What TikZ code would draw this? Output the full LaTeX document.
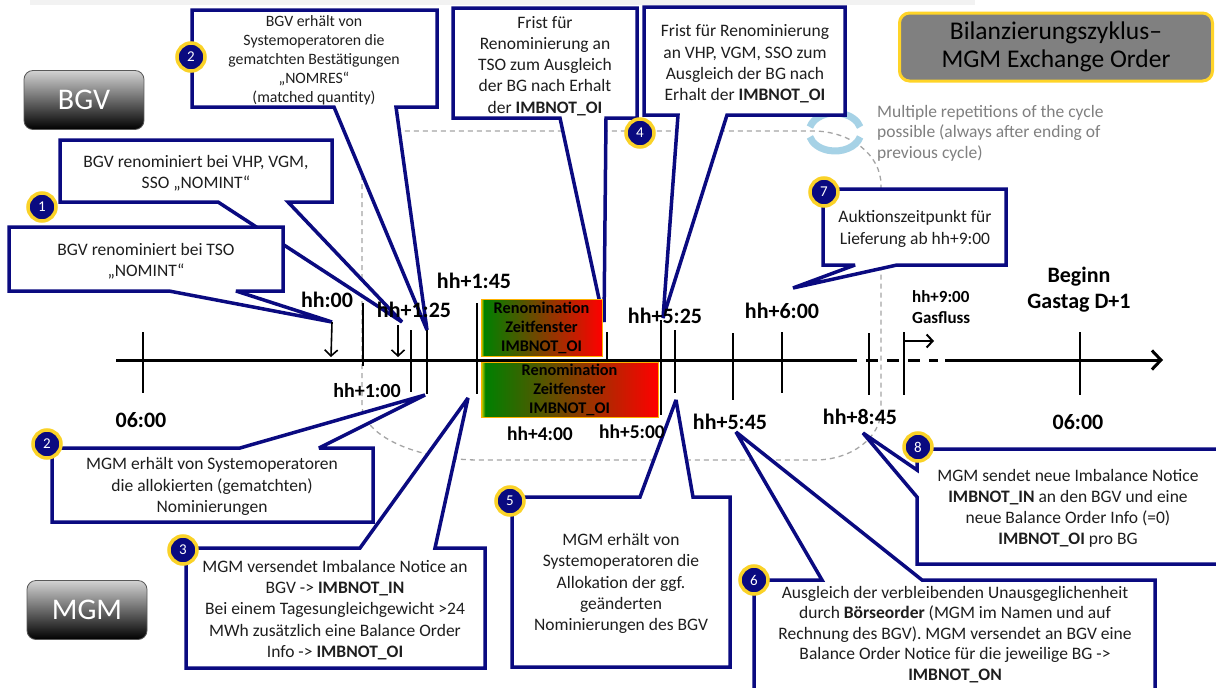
\documentclass[tikz,border=0pt]{standalone}
\usepackage{fontspec}
\setmainfont{Carlito}
\usetikzlibrary{arrows.meta}
\definecolor{navyc}{RGB}{10,10,128}
\definecolor{badgey}{RGB}{250,210,40}
\definecolor{titley}{RGB}{255,212,40}
\definecolor{titleg}{RGB}{128,128,128}
\definecolor{dashg}{RGB}{165,165,165}
\definecolor{cyc}{RGB}{166,210,230}
\definecolor{cyctext}{RGB}{128,128,128}
\definecolor{grn}{RGB}{0,128,0}
\definecolor{yelstrip}{RGB}{230,220,0}
\definecolor{txt}{RGB}{30,30,30}
\pgfdeclarehorizontalshading{renom}{100bp}{color(0bp)=(yelstrip); color(25bp)=(yelstrip); color(26.2bp)=(grn); color(75bp)=(red); color(100bp)=(red)}
\begin{document}
\begin{tikzpicture}[x=1pt,y=-1pt,
  callout/.style={draw=navyc, line width=3.5pt, fill=white, miter limit=3},
  ctext/.style={align=center, text=txt, inner sep=0pt, font=\fontsize{17.5}{21.2}\selectfont},
  badge/.style={circle, fill=navyc, draw=badgey, line width=3.5pt, minimum size=28pt, inner sep=0pt, text=white, font=\fontsize{15}{15}\selectfont},
  tickline/.style={line width=2.8pt},
  tl/.style={font=\bfseries\fontsize{22}{26}\selectfont, inner sep=0pt},
  tls/.style={font=\bfseries\fontsize{19.5}{22}\selectfont, inner sep=0pt},
  renombox/.style={draw=orange!60!yellow, line width=0.8pt, shading=renom, align=center, inner sep=0pt, font=\bfseries\fontsize{16.3}{19}\selectfont},
  button/.style={rounded corners=9pt, top color=gray!35, bottom color=black, draw=gray!70!black, line width=0.8pt, minimum width=120pt, minimum height=59pt, text=white, font=\fontsize{30}{30}\selectfont},
  smallarrow/.style={line width=1.6pt, -{Straight Barb[length=6pt,width=13pt]}},
  cycarc/.style={cyc, line width=7pt}
]
\clip (0,0) rectangle (1216,688);
\fill[white] (0,0) rectangle (1216,688);
\fill[gray!10] (30,0) rectangle (975,5);

% dashed cycle frame
\draw[dashg, line width=1.3pt, dash pattern=on 5pt off 4pt]
  (362,179) .. controls (362,152.5) and (380,131) .. (402,131) -- (813,131)
  .. controls (850.5,131) and (881,155) .. (881,185) -- (881,410)
  .. controls (881,437.6) and (851.4,460) .. (815,460) -- (480,460)
  .. controls (415,460) and (362,435) .. (362,405) -- cycle;

% cycle icon
\draw[cycarc] (835,132) ++(195:26 and 19) arc[start angle=195, end angle=345, x radius=26, y radius=19];
\draw[cycarc] (835,132) ++(15:26 and 19) arc[start angle=15, end angle=165, x radius=26, y radius=19];
\node[anchor=north west, align=left, text=cyctext, inner sep=0pt, font=\fontsize{17.5}{20.5}\selectfont] (cycnote) at (877,105)
  {Multiple repetitions of the cycle\\possible (always after ending of\\previous cycle)};

% title and role buttons
\node[draw=titley, fill=titleg, line width=3pt, rounded corners=10pt, minimum width=313pt, minimum height=68pt, align=center, inner sep=0pt, font=\fontsize{25.5}{28}\selectfont] (title) at (1056,47) {Bilanzierungszyklus–\\MGM Exchange Order};
\node[button] (bgv) at (84,100) {BGV};
\node[button] (mgm) at (87,610) {MGM};

% tip coordinates
\coordinate (t1) at (402,322);
\coordinate (t1b) at (332,322);
\coordinate (t2) at (427,330);
\coordinate (tA) at (604,322);
\coordinate (tB) at (663,318);
\coordinate (t7) at (793,288);
\coordinate (t2b) at (425,395);
\coordinate (t3) at (468,398);
\coordinate (t5) at (676,400);
\coordinate (t6) at (736,432);
\coordinate (t8) at (863,433);

% callouts
\draw[callout] (60,140) -- (332,140) -- (332,202) -- (288,202) -- (t1) -- (218,202) -- (60,202) -- cycle;
\draw[callout] (9,227) -- (283,227) -- (283,291) -- (236,291) -- (t1b) -- (169,291) -- (9,291) -- cycle;
\draw[callout] (192,10) -- (437,10) -- (437,107) -- (396,107) -- (t2) -- (334,107) -- (192,107) -- cycle;
\draw[callout] (453,8) -- (637,8) -- (637,118) -- (606,118) -- (tA) -- (560,118) -- (453,118) -- cycle;
\draw[callout] (644,7) -- (845,7) -- (845,115) -- (727,115) -- (tB) -- (678,115) -- (644,115) -- cycle;
\draw[callout] (823,189) -- (1006,189) -- (1006,265) -- (897,265) -- (t7) -- (855,265) -- (823,265) -- cycle;
\draw[callout] (52,448) -- (240,448) -- (t2b) -- (319,448) -- (373,448) -- (373,522) -- (52,522) -- cycle;
\draw[callout] (186,548) -- (360,548) -- (t3) -- (435,548) -- (485,548) -- (485,668) -- (186,668) -- cycle;
\draw[callout] (512,497) -- (640,497) -- (t5) -- (693,497) -- (730,497) -- (730,667) -- (512,667) -- cycle;
\draw[callout] (754,700) -- (754,580) -- (822,580) -- (t6) -- (922,580) -- (1155,580) -- (1155,700) -- cycle;
\draw[callout] (917,449) -- (1230,449) -- (1230,564) -- (917,564) -- (917,497) -- (t8) -- (917,470) -- cycle;

% callout texts
\node[ctext] (c1) at (196,173) {BGV renominiert bei VHP, VGM,\\SSO „NOMINT“};
\node[ctext] (c1b) at (146,261) {BGV renominiert bei TSO\\„NOMINT“};
\node[ctext, font=\fontsize{15.8}{19}\selectfont] (c2t) at (314,60.5) {BGV erhält von\\Systemoperatoren die\\gematchten Bestätigungen\\„NOMRES“\\(matched quantity)};
\node[ctext] (cA) at (545,66) {Frist für\\Renominierung an\\TSO zum Ausgleich\\der BG nach Erhalt\\der \textbf{IMBNOT\_OI}};
\node[ctext] (cB) at (745,64) {Frist für Renominierung\\an VHP, VGM, SSO zum\\Ausgleich der BG nach\\Erhalt der \textbf{IMBNOT\_OI}};
\node[ctext] (c7) at (915,229) {Auktionszeitpunkt für\\Lieferung ab hh+9:00};
\node[ctext] (c2b) at (212,486.5) {MGM erhält von Systemoperatoren\\die allokierten (gematchten)\\Nominierungen};
\node[ctext] (c3) at (335,610) {MGM versendet Imbalance Notice an\\BGV -> \textbf{IMBNOT\_IN}\\Bei einem Tagesungleichgewicht >24\\MWh zusätzlich eine Balance Order\\Info -> \textbf{IMBNOT\_OI}};
\node[ctext] (c5) at (621,583.5) {MGM erhält von\\Systemoperatoren die\\Allokation der ggf.\\geänderten\\Nominierungen des BGV};
\node[ctext, font=\fontsize{17.5}{20.6}\selectfont] (c6) at (955,634.5) {Ausgleich der verbleibenden Unausgeglichenheit\\durch \textbf{Börseorder} (MGM im Namen und auf\\Rechnung des BGV). MGM versendet an BGV eine\\Balance Order Notice für die jeweilige BG ->\\\textbf{IMBNOT\_ON}};
\node[ctext] (c8) at (1068,508.5) {MGM sendet neue Imbalance Notice\\\textbf{IMBNOT\_IN} an den BGV und eine\\neue Balance Order Info (=0)\\\textbf{IMBNOT\_OI} pro BG};

% timeline
\coordinate (ax0) at (116,360);
\coordinate (ax1) at (845,360);
\coordinate (ax2) at (938,360);
\coordinate (ax3) at (945,360);
\coordinate (ax4) at (1163,360);
\draw[line width=3pt] (ax0) -- (ax1);
\draw[line width=3pt, dash pattern=on 12pt off 9pt] (ax1) -- (ax2);
\draw[line width=3pt, -{Straight Barb[length=9pt,width=19pt]}] (ax3) -- (ax4);

\draw[tickline] (143,332) -- (143,393);
\draw[tickline] (363,303) -- (363,366);
\draw[tickline] (411,330) -- (411,392);
\draw[tickline] (427,330) -- (427,394);
\draw[tickline] (477,303) -- (477,394);
\draw[tickline] (607,332) -- (607,359);
\draw[tickline] (661,320) -- (661,415);
\draw[tickline] (675,330) -- (675,393);
\draw[tickline] (733,333) -- (733,400);
\draw[tickline] (782,332) -- (782,393);
\draw[tickline] (869,333) -- (869,395);
\draw[tickline] (904,332) -- (904,395);
\draw[tickline] (1080,332) -- (1080,395);

\draw[smallarrow] (t1b) -- (331,357);
\draw[smallarrow] (398,325) -- (398,357);
\coordinate (gf0) at (904,341);
\coordinate (gf1) at (934,341);
\draw[line width=2pt, -{Straight Barb[length=6pt,width=13pt]}] (gf0) -- (gf1);

% renomination windows
\node[renombox, minimum width=121pt, minimum height=57pt] (r1) at (541.5,327.5) {Renomination\\Zeitfenster\\IMBNOT\_OI};
\node[renombox, minimum width=177pt, minimum height=55pt] (r2) at (569.5,389.5) {Renomination\\Zeitfenster\\IMBNOT\_OI};

% timeline labels
\node[tl] (l0600) at (141,420) {06:00};
\node[tl] (lhh00) at (327,300) {hh:00};
\node[tl] (l125) at (414,310) {hh+1:25};
\node[tls, font=\bfseries\fontsize{20}{22}\selectfont] (l100) at (367,391) {hh+1:00};
\node[tl] (l145) at (474,281) {hh+1:45};
\node[tls] (l400) at (540,434) {hh+4:00};
\node[tls] (l500) at (632,432) {hh+5:00};
\node[tl] (l525) at (665,316) {hh+5:25};
\node[tl] (l600) at (782,311) {hh+6:00};
\node[tl] (l545) at (730,422) {hh+5:45};
\node[tl] (l845) at (860,417) {hh+8:45};
\node[anchor=west, align=left, inner sep=0pt, font=\bfseries\fontsize{17}{21}\selectfont] (lgas) at (912,307.5) {hh+9:00\\Gasfluss};
\node[align=center, inner sep=0pt, font=\bfseries\fontsize{22}{26}\selectfont] (lbeg) at (1079,290) {Beginn\\Gastag D+1};
\node[tl] (l0600b) at (1078,422) {06:00};

% badges
\node[badge] (b1) at (42,207) {1};
\node[badge] (b2t) at (191,57) {2};
\node[badge] (b2b) at (47,444) {2};
\node[badge] (b3) at (183,550) {3};
\node[badge] (b4) at (640,133) {4};
\node[badge] (b5) at (510,501) {5};
\node[badge] (b6) at (754,580) {6};
\node[badge] (b7) at (824,192) {7};
\node[badge] (b8) at (918,447) {8};
\end{tikzpicture}
\end{document}
